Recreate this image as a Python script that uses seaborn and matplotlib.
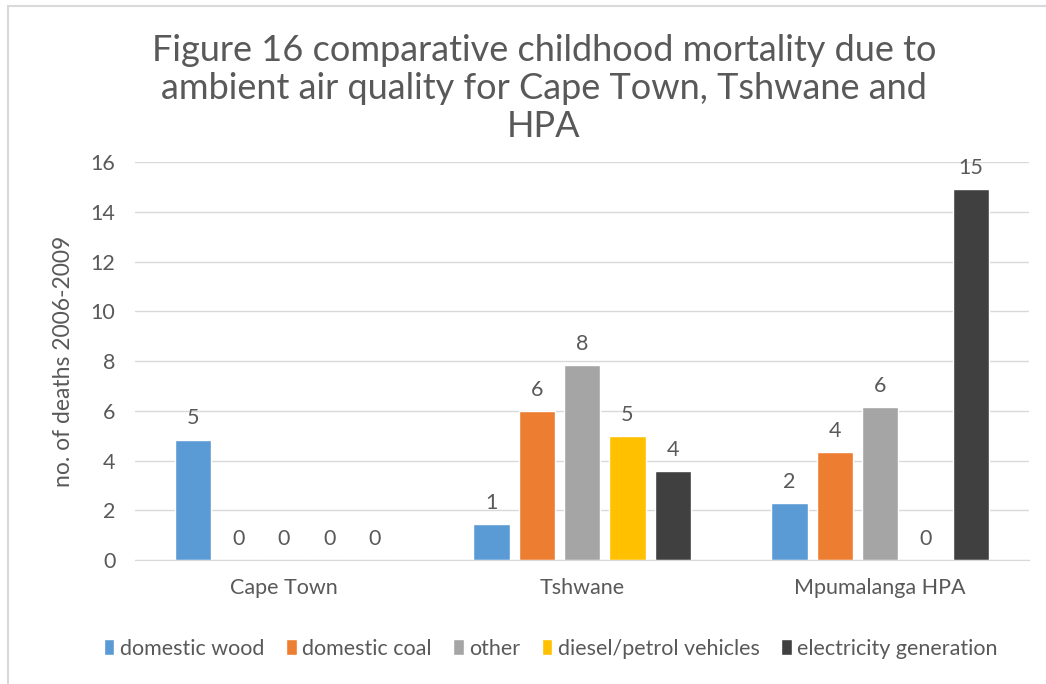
import pandas as pd
import matplotlib
matplotlib.use('Agg')
import matplotlib.pyplot as plt
import seaborn as sns
from matplotlib.patches import Rectangle

# data
regions = ['Cape Town', 'Tshwane', 'Mpumalanga HPA']
sources = ['domestic wood', 'domestic coal', 'other', 'diesel/petrol vehicles', 'electricity generation']
domestic_wood = [4.85, 1.45, 2.3]
domestic_coal = [0, 6.0, 4.35]
other = [0, 7.85, 6.15]
vehicles = [0, 5.0, 0]
electricity = [0, 3.6, 14.9]
colours = ['#5B9BD5', '#ED7D31', '#A5A5A5', '#FFC000', '#404040']

series = [domestic_wood, domestic_coal, other, vehicles, electricity]
rows = []
for src, vals in zip(sources, series):
    for reg, v in zip(regions, vals):
        rows.append({'region': reg, 'source': src, 'deaths': v})
df = pd.DataFrame(rows)

sns.set_style('white')
plt.rcParams['font.family'] = ['Lato', 'DejaVu Sans']
txt = '#595959'

fig = plt.figure(figsize=(10.46, 6.84), dpi=100)
ax = fig.add_axes([0.129, 0.181, 0.855, 0.582])

sns.barplot(data=df, x='region', y='deaths', hue='source', order=regions,
            hue_order=sources, palette=colours, width=0.76, gap=0.2,
            saturation=1, ax=ax, legend=True)

for cont in ax.containers:
    labels = ['%.0f' % b.get_height() for b in cont]
    ax.bar_label(cont, labels=labels, padding=8, fontsize=15.5, color=txt)

ax.set_ylim(0, 16)
ax.set_yticks(range(0, 17, 2))
ax.yaxis.grid(True, color='#D9D9D9', linewidth=1)
ax.set_axisbelow(True)
for s in ['top', 'right', 'left']:
    ax.spines[s].set_visible(False)
ax.spines['bottom'].set_color('#D9D9D9')
ax.tick_params(axis='both', length=0, labelsize=15.5, labelcolor=txt)
ax.tick_params(axis='x', pad=13)
ax.tick_params(axis='y', pad=14)
ax.set_xlabel('')
ax.set_ylabel('no. of deaths 2006-2009', fontsize=16.5, color=txt, labelpad=12)

handles, lbls = ax.get_legend_handles_labels()
ax.legend(handles, lbls, loc='center', bbox_to_anchor=(0.465, -0.222),
          ncol=5, frameon=False, fontsize=15.5, labelcolor=txt,
          handlelength=0.5, handleheight=0.8, handletextpad=0.25,
          columnspacing=1.0)

fig.text(0.52, 0.871, 'Figure 16 comparative childhood mortality due to\n'
         'ambient air quality for Cape Town, Tshwane and\nHPA',
         ha='center', va='center', fontsize=26, color=txt, linespacing=1.19)

# chart frame
fig.patches.append(Rectangle((8 / 1046, -0.05), 1.1, 1.05 - 6 / 684,
                             transform=fig.transFigure, fill=False,
                             edgecolor='#D9D9D9', linewidth=1.5))

fig.savefig('out.png', dpi=100)
